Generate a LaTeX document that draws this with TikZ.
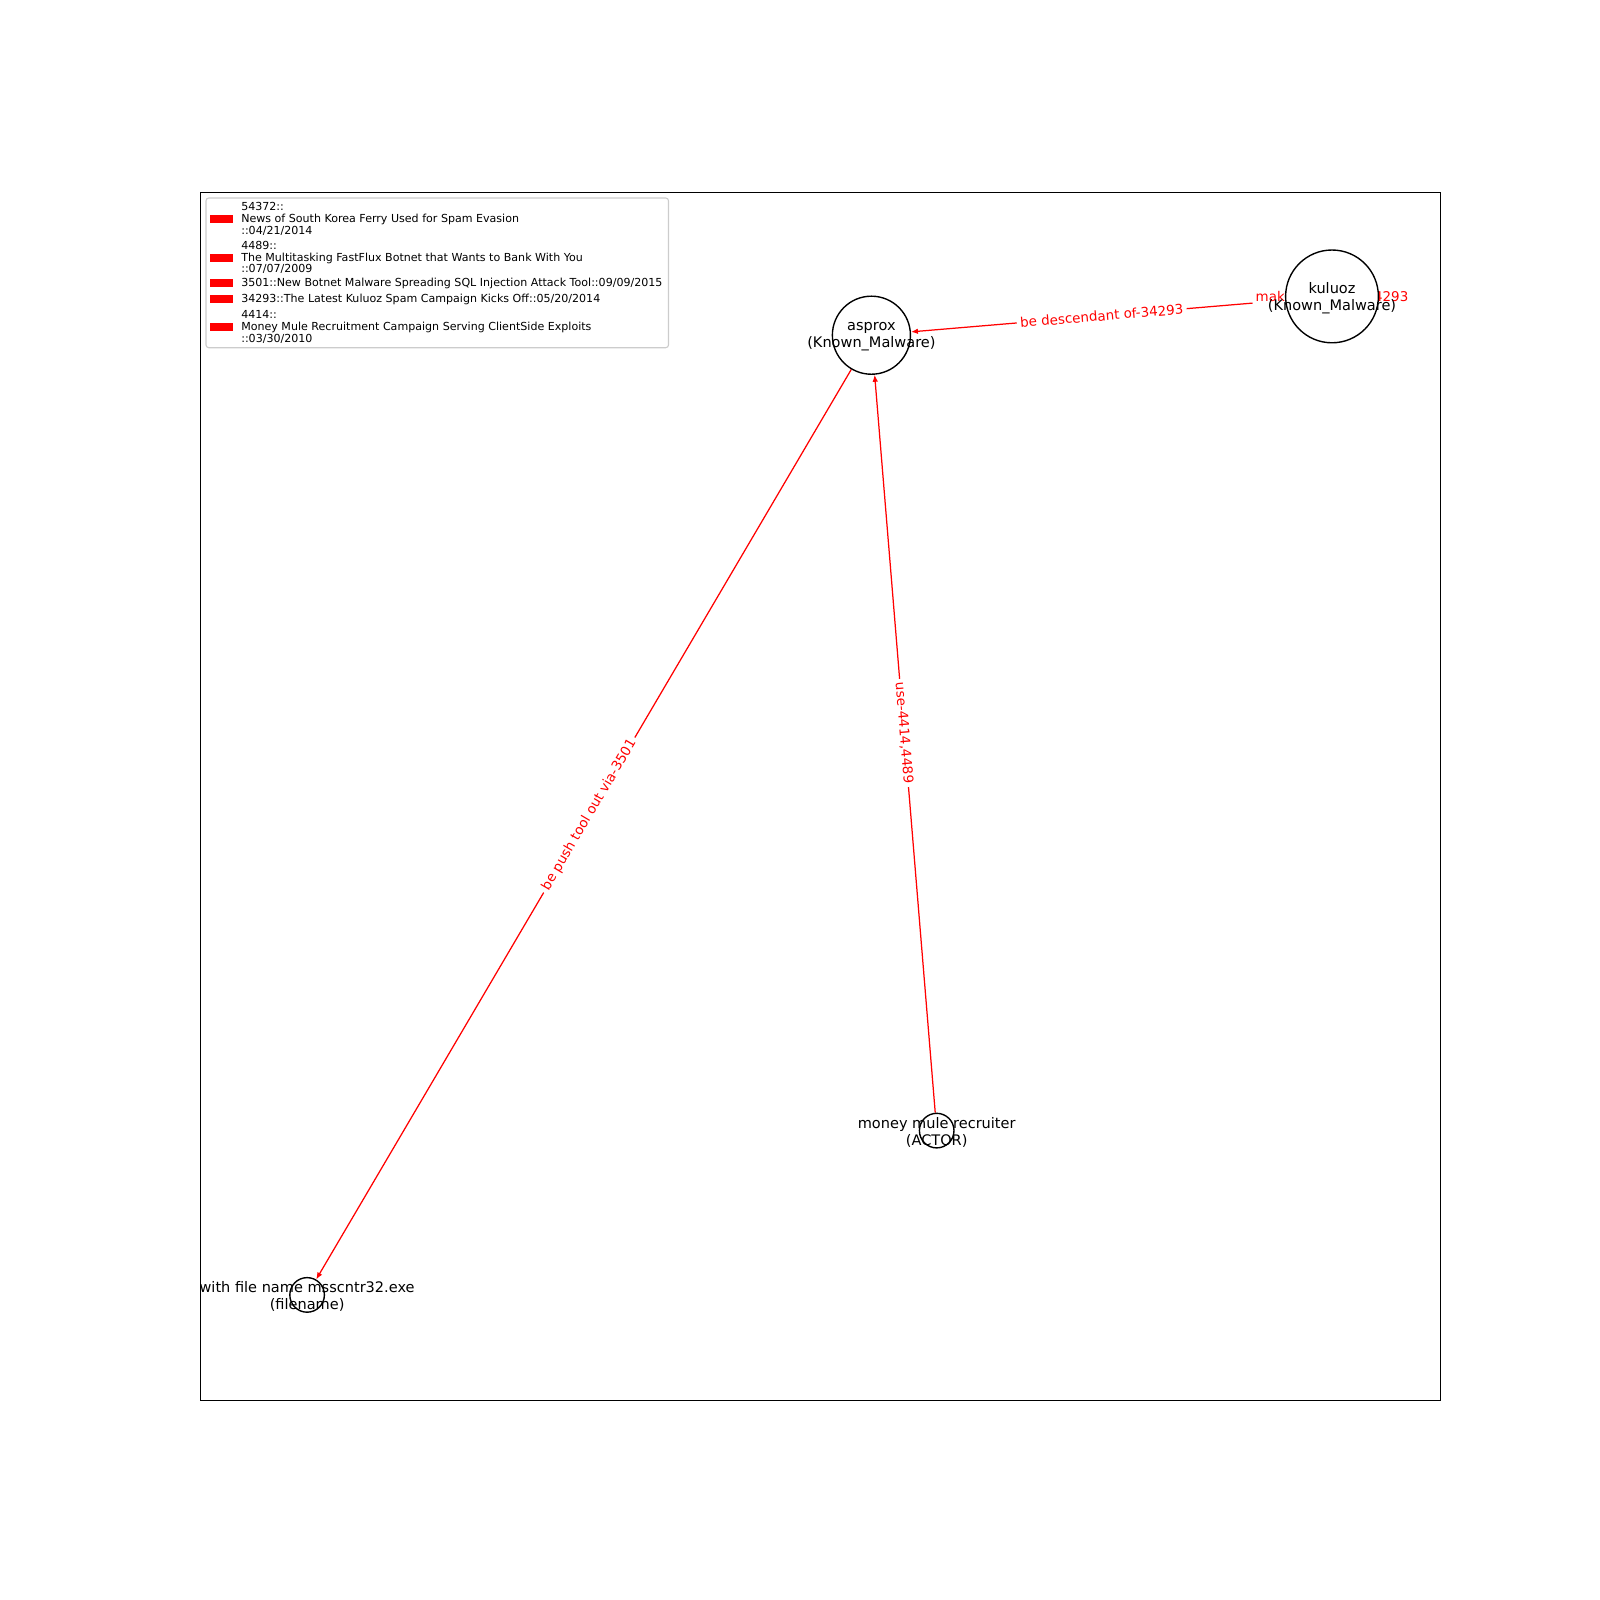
\documentclass[tikz,border=0pt]{standalone}
\usepackage{fontspec}
\setmainfont{DejaVu Sans}
\usetikzlibrary{arrows.meta,calc}
\pgfdeclarelayer{edges}
\pgfsetlayers{edges,main}
\begin{document}
\begin{tikzpicture}[x=0.72bp,y=-0.72bp,
  ncirc/.style={circle,draw=black,fill=white,line width=1pt,inner sep=0pt},
  ntext/.style={align=center,font=\fontsize{10.5}{11.9}\selectfont,text=black,inner sep=0pt},
  edge/.style={draw=red,line width=0.9pt,-{Latex[length=5bp,width=4bp]}},
  elabel/.style={text=red,fill=white,font=\fontsize{9.7}{11.5}\selectfont,inner sep=2.5bp,rounded corners=2bp},
  legtext/.style={anchor=west,align=left,font=\fontsize{8}{8.4}\selectfont,inner sep=0pt},
  legpatch/.style={fill=red,draw=none,inner sep=0pt,minimum width=16.2bp,minimum height=5.6bp}]
\useasboundingbox (0,0) rectangle (1600,1600);
% axes frame
\draw[line width=0.6bp] (200,192) rectangle (1440,1400);
% legend
\draw[draw=black!20,fill=white,line width=0.8bp,rounded corners=2bp] (206,198) rectangle (668.5,347.7);
\node[legpatch] (p1) at (221.3,219) {};
\node[legpatch] (p2) at (221.3,257.7) {};
\node[legpatch] (p3) at (221.3,283.2) {};
\node[legpatch] (p4) at (221.3,299.2) {};
\node[legpatch] (p5) at (221.3,327) {};
\node[legtext] (t1) at (241,219) {54372::\\News of South Korea Ferry Used for Spam Evasion\\::04/21/2014};
\node[legtext] (t2) at (241,257.7) {4489::\\The Multitasking FastFlux Botnet that Wants to Bank With You\\::07/07/2009};
\node[legtext] (t3) at (241,283.2) {3501::New Botnet Malware Spreading SQL Injection Attack Tool::09/09/2015};
\node[legtext] (t4) at (241,299.2) {34293::The Latest Kuluoz Spam Campaign Kicks Off::05/20/2014};
\node[legtext] (t5) at (241,327) {4414::\\Money Mule Recruitment Campaign Serving ClientSide Exploits\\::03/30/2010};
% nodes
\node[ncirc,minimum size=56.2bp] (asprox) at (871.4,335.2) {};
\node[ncirc,minimum size=66.8bp] (kuluoz) at (1332,296.4) {};
\node[ncirc,minimum size=24.9bp] (mule) at (936.7,1130.6) {};
\node[ncirc,minimum size=24.9bp] (fname) at (307.1,1294.9) {};
% edges
\begin{pgfonlayer}{edges}
\draw[edge] (kuluoz) -- (asprox);
\draw[edge] (asprox) -- (fname);
\draw[edge] (mule) -- (asprox);
\node[elabel,rotate=4.8] (l1) at ($(asprox)!0.5!(kuluoz)$) {be descendant of-34293};
\node[elabel,rotate=59.5] (l2) at ($(asprox)!0.5!(fname)$) {be push tool out via-3501};
\node[elabel,rotate=-85.3] (l3) at ($(asprox)!0.5!(mule)$) {use-4414,4489};
\node[elabel] (l4) at (kuluoz.center) {make variant of-34293};
\end{pgfonlayer}
% node labels
\node[ntext] (asproxT) at ([yshift=-1.2bp]asprox.center) {asprox\\(Known\_Malware)};
\node[ntext] (kuluozT) at ([yshift=-1.2bp]kuluoz.center) {kuluoz\\(Known\_Malware)};
\node[ntext] (muleT) at ([yshift=-1.2bp]mule.center) {money mule recruiter\\(ACTOR)};
\node[ntext] (fnameT) at ([yshift=-1.2bp]fname.center) {with file name msscntr32.exe\\(filename)};
\end{tikzpicture}
\end{document}
